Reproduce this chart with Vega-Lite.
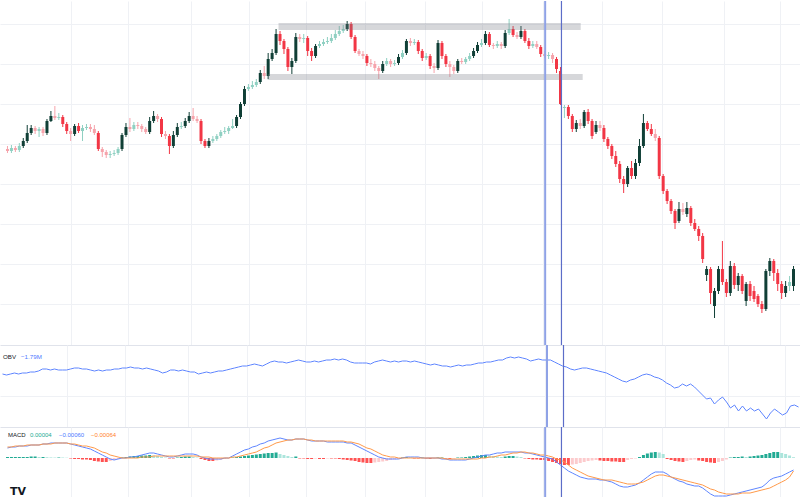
{
"$schema": "https://vega.github.io/schema/vega-lite/v6.json",
"padding": 0,
"spacing": 0,
"bounds": "flush",
"background": "#ffffff",
"config": {
  "view": {"stroke": null},
  "axis": {"labels": false, "ticks": false, "domain": false, "title": null, "grid": true, "gridColor": "#eff1f5", "gridWidth": 1, "minExtent": 0, "maxExtent": 0}
},
"data": {"values": [
{"t":0,"o":1.0755,"h":1.0758,"l":1.0751,"c":1.0753,"obv":-0.14,"macd":0.0005,"sig":0.00055,"hist":0.00005},
{"t":1,"o":1.0753,"h":1.0759,"l":1.0751,"c":1.0756,"obv":-0.19,"macd":0.00055,"sig":0.00055,"hist":0.00005},
{"t":2,"o":1.0756,"h":1.0758,"l":1.0752,"c":1.0754,"obv":-0.14,"macd":0.00055,"sig":0.0006,"hist":0.00005},
{"t":3,"o":1.0754,"h":1.0761,"l":1.0752,"c":1.0758,"obv":-0.09,"macd":0.0006,"sig":0.0006,"hist":0.00005},
{"t":4,"o":1.0758,"h":1.0766,"l":1.0756,"c":1.0763,"obv":-0.14,"macd":0.0006,"sig":0.0006,"hist":0.00005},
{"t":5,"o":1.0763,"h":1.0779,"l":1.0761,"c":1.0771,"obv":-0.09,"macd":0.0006,"sig":0.00065,"hist":0.00005},
{"t":6,"o":1.0771,"h":1.0779,"l":1.0769,"c":1.0776,"obv":-0.09,"macd":0.00065,"sig":0.00065,"hist":0.000075},
{"t":7,"o":1.0776,"h":1.0778,"l":1.077,"c":1.0773,"obv":-0.04,"macd":0.00065,"sig":0.00065,"hist":0.000075},
{"t":8,"o":1.0773,"h":1.0777,"l":1.0767,"c":1.0775,"obv":-0.04,"macd":0.00065,"sig":0.00065,"hist":0.00005},
{"t":9,"o":1.0775,"h":1.0777,"l":1.0768,"c":1.0771,"obv":0.01,"macd":0.0007,"sig":0.0007,"hist":0.00005},
{"t":10,"o":1.0771,"h":1.0785,"l":1.0769,"c":1.0783,"obv":0.11,"macd":0.0007,"sig":0.0007,"hist":0.00004},
{"t":11,"o":1.0783,"h":1.0793,"l":1.0782,"c":1.0788,"obv":0.11,"macd":0.00075,"sig":0.0007,"hist":0.00003},
{"t":12,"o":1.0788,"h":1.0798,"l":1.0784,"c":1.0786,"obv":0.06,"macd":0.00075,"sig":0.00075,"hist":0.000025},
{"t":13,"o":1.0786,"h":1.0791,"l":1.0784,"c":1.0787,"obv":0.11,"macd":0.00075,"sig":0.00075,"hist":0.000025},
{"t":14,"o":1.0787,"h":1.0789,"l":1.0777,"c":1.078,"obv":0.06,"macd":0.00075,"sig":0.00075,"hist":0.00002},
{"t":15,"o":1.078,"h":1.0782,"l":1.077,"c":1.0773,"obv":0.06,"macd":0.00075,"sig":0.00075,"hist":0.000015},
{"t":16,"o":1.0773,"h":1.0776,"l":1.0763,"c":1.077,"obv":0.06,"macd":0.0007,"sig":0.0007,"hist":-0.000025},
{"t":17,"o":1.077,"h":1.078,"l":1.0768,"c":1.0778,"obv":0.11,"macd":0.00065,"sig":0.0007,"hist":-0.00005},
{"t":18,"o":1.0778,"h":1.0781,"l":1.0771,"c":1.0773,"obv":0.16,"macd":0.0006,"sig":0.00065,"hist":-0.00005},
{"t":19,"o":1.0773,"h":1.0779,"l":1.0763,"c":1.0776,"obv":0.16,"macd":0.00055,"sig":0.0006,"hist":-0.000075},
{"t":20,"o":1.0776,"h":1.078,"l":1.0774,"c":1.0777,"obv":0.11,"macd":0.0005,"sig":0.0006,"hist":-0.000075},
{"t":21,"o":1.0777,"h":1.078,"l":1.0772,"c":1.0775,"obv":0.11,"macd":0.00045,"sig":0.00055,"hist":-0.0001},
{"t":22,"o":1.0775,"h":1.0779,"l":1.0769,"c":1.0771,"obv":0.06,"macd":0.00035,"sig":0.0005,"hist":-0.00015},
{"t":23,"o":1.0771,"h":1.0773,"l":1.0753,"c":1.0755,"obv":0.01,"macd":0.00025,"sig":0.0004,"hist":-0.000175},
{"t":24,"o":1.0755,"h":1.0757,"l":1.0747,"c":1.0752,"obv":0.06,"macd":0.00015,"sig":0.0003,"hist":-0.0002},
{"t":25,"o":1.0752,"h":1.0754,"l":1.0746,"c":1.0749,"obv":0.01,"macd":0.00005,"sig":0.00025,"hist":-0.0002},
{"t":26,"o":1.0749,"h":1.0753,"l":1.0746,"c":1.075,"obv":0.06,"macd":-0.00005,"sig":0.00015,"hist":-0.00015},
{"t":27,"o":1.075,"h":1.0754,"l":1.0748,"c":1.0751,"obv":0.06,"macd":-0.0001,"sig":0.0001,"hist":-0.0001},
{"t":28,"o":1.0751,"h":1.0757,"l":1.0749,"c":1.0755,"obv":0.11,"macd":-0.00005,"sig":0.00005,"hist":-0.00005},
{"t":29,"o":1.0755,"h":1.0771,"l":1.0753,"c":1.0769,"obv":0.11,"macd":0,"sig":0,"hist":0.000025},
{"t":30,"o":1.0769,"h":1.0781,"l":1.0767,"c":1.0777,"obv":0.16,"macd":0,"sig":0,"hist":0.00005},
{"t":31,"o":1.0777,"h":1.0786,"l":1.0772,"c":1.0775,"obv":0.16,"macd":0.00005,"sig":0,"hist":0.000075},
{"t":32,"o":1.0775,"h":1.0782,"l":1.0773,"c":1.0779,"obv":0.21,"macd":0.00005,"sig":0,"hist":0.0001},
{"t":33,"o":1.0779,"h":1.0782,"l":1.0775,"c":1.0778,"obv":0.16,"macd":0.0001,"sig":0,"hist":0.0001},
{"t":34,"o":1.0778,"h":1.078,"l":1.0772,"c":1.0775,"obv":0.16,"macd":0.00015,"sig":0.00005,"hist":0.000125},
{"t":35,"o":1.0775,"h":1.0777,"l":1.077,"c":1.0772,"obv":0.11,"macd":0.0002,"sig":0.00005,"hist":0.000125},
{"t":36,"o":1.0772,"h":1.0787,"l":1.077,"c":1.0783,"obv":0.16,"macd":0.00025,"sig":0.00005,"hist":0.00015},
{"t":37,"o":1.0783,"h":1.0793,"l":1.0781,"c":1.0788,"obv":0.11,"macd":0.00025,"sig":0.0001,"hist":0.000125},
{"t":38,"o":1.0788,"h":1.079,"l":1.0782,"c":1.0785,"obv":0.06,"macd":0.0002,"sig":0.0001,"hist":0.0001},
{"t":39,"o":1.0785,"h":1.0787,"l":1.0767,"c":1.077,"obv":0.01,"macd":0.00015,"sig":0.0001,"hist":0.00005},
{"t":40,"o":1.077,"h":1.0773,"l":1.0765,"c":1.0768,"obv":-0.09,"macd":0.0001,"sig":0.0001,"hist":0.000025},
{"t":41,"o":1.0768,"h":1.077,"l":1.075,"c":1.0758,"obv":-0.04,"macd":0.00005,"sig":0.0001,"hist":-0.000025},
{"t":42,"o":1.0758,"h":1.0773,"l":1.0756,"c":1.0769,"obv":0.06,"macd":0.00005,"sig":0.0001,"hist":-0.000025},
{"t":43,"o":1.0769,"h":1.0781,"l":1.0767,"c":1.0777,"obv":0.06,"macd":0.0001,"sig":0.0001,"hist":0.000025},
{"t":44,"o":1.0777,"h":1.0782,"l":1.0775,"c":1.0778,"obv":0.01,"macd":0.00015,"sig":0.0001,"hist":0.00005},
{"t":45,"o":1.0778,"h":1.0786,"l":1.0776,"c":1.0783,"obv":0.06,"macd":0.0002,"sig":0.0001,"hist":0.000075},
{"t":46,"o":1.0783,"h":1.0792,"l":1.0781,"c":1.0788,"obv":0.01,"macd":0.0002,"sig":0.0001,"hist":0.000075},
{"t":47,"o":1.0788,"h":1.0796,"l":1.0783,"c":1.0785,"obv":-0.04,"macd":0.0002,"sig":0.0001,"hist":0.00005},
{"t":48,"o":1.0785,"h":1.0788,"l":1.0781,"c":1.0783,"obv":-0.04,"macd":0.00015,"sig":0.0001,"hist":0.000025},
{"t":49,"o":1.0783,"h":1.0785,"l":1.076,"c":1.0763,"obv":-0.14,"macd":0.00005,"sig":0.00005,"hist":-0.00005},
{"t":50,"o":1.0763,"h":1.0765,"l":1.0756,"c":1.0758,"obv":-0.09,"macd":0,"sig":0.00005,"hist":-0.0001},
{"t":51,"o":1.0758,"h":1.0766,"l":1.0756,"c":1.0763,"obv":-0.04,"macd":-0.00005,"sig":0.00005,"hist":-0.00015},
{"t":52,"o":1.0763,"h":1.0768,"l":1.0761,"c":1.0765,"obv":-0.09,"macd":-0.00005,"sig":0,"hist":-0.00015},
{"t":53,"o":1.0765,"h":1.077,"l":1.0763,"c":1.0768,"obv":-0.04,"macd":-0.00005,"sig":0,"hist":-0.000125},
{"t":54,"o":1.0768,"h":1.0774,"l":1.0766,"c":1.0772,"obv":0.01,"macd":-0.00005,"sig":0,"hist":-0.0001},
{"t":55,"o":1.0772,"h":1.0777,"l":1.077,"c":1.0773,"obv":0.01,"macd":0,"sig":0,"hist":-0.00005},
{"t":56,"o":1.0773,"h":1.0778,"l":1.077,"c":1.0776,"obv":0.06,"macd":0,"sig":0,"hist":-0.000025},
{"t":57,"o":1.0776,"h":1.0785,"l":1.0775,"c":1.0778,"obv":0.11,"macd":0.0001,"sig":0.00005,"hist":0.000025},
{"t":58,"o":1.0778,"h":1.0789,"l":1.0776,"c":1.0787,"obv":0.16,"macd":0.0002,"sig":0.00005,"hist":0.00005},
{"t":59,"o":1.0787,"h":1.0802,"l":1.0785,"c":1.08,"obv":0.21,"macd":0.0003,"sig":0.0001,"hist":0.000075},
{"t":60,"o":1.08,"h":1.0818,"l":1.0798,"c":1.0815,"obv":0.26,"macd":0.0004,"sig":0.00015,"hist":0.0001},
{"t":61,"o":1.0815,"h":1.082,"l":1.0813,"c":1.0817,"obv":0.26,"macd":0.00045,"sig":0.0002,"hist":0.000125},
{"t":62,"o":1.0817,"h":1.0823,"l":1.0815,"c":1.0819,"obv":0.31,"macd":0.00055,"sig":0.00025,"hist":0.00015},
{"t":63,"o":1.0819,"h":1.0825,"l":1.0817,"c":1.0822,"obv":0.36,"macd":0.0006,"sig":0.0003,"hist":0.000175},
{"t":64,"o":1.0822,"h":1.0834,"l":1.082,"c":1.0831,"obv":0.31,"macd":0.0007,"sig":0.0004,"hist":0.0002},
{"t":65,"o":1.0831,"h":1.0838,"l":1.0825,"c":1.0828,"obv":0.26,"macd":0.00075,"sig":0.0005,"hist":0.000225},
{"t":66,"o":1.0828,"h":1.0851,"l":1.0825,"c":1.0845,"obv":0.36,"macd":0.00085,"sig":0.00055,"hist":0.00025},
{"t":67,"o":1.0845,"h":1.0855,"l":1.0843,"c":1.0851,"obv":0.46,"macd":0.0009,"sig":0.00065,"hist":0.00025},
{"t":68,"o":1.0851,"h":1.0875,"l":1.0849,"c":1.087,"obv":0.51,"macd":0.00095,"sig":0.00075,"hist":0.000275},
{"t":69,"o":1.087,"h":1.0873,"l":1.0859,"c":1.0863,"obv":0.46,"macd":0.001,"sig":0.0008,"hist":0.0002},
{"t":70,"o":1.0863,"h":1.0865,"l":1.085,"c":1.0855,"obv":0.46,"macd":0.00095,"sig":0.00085,"hist":0.00015},
{"t":71,"o":1.0855,"h":1.0857,"l":1.0833,"c":1.0837,"obv":0.41,"macd":0.0009,"sig":0.0009,"hist":0.0001},
{"t":72,"o":1.0837,"h":1.0846,"l":1.083,"c":1.0843,"obv":0.46,"macd":0.0009,"sig":0.0009,"hist":0.00005},
{"t":73,"o":1.0843,"h":1.0871,"l":1.0841,"c":1.0867,"obv":0.51,"macd":0.00095,"sig":0.00095,"hist":0.000075},
{"t":74,"o":1.0867,"h":1.087,"l":1.0862,"c":1.0865,"obv":0.56,"macd":0.00095,"sig":0.00095,"hist":-0.000025},
{"t":75,"o":1.0865,"h":1.087,"l":1.0861,"c":1.0866,"obv":0.51,"macd":0.00095,"sig":0.00095,"hist":-0.000025},
{"t":76,"o":1.0866,"h":1.0868,"l":1.0848,"c":1.0853,"obv":0.46,"macd":0.0009,"sig":0.0009,"hist":-0.00005},
{"t":77,"o":1.0853,"h":1.0856,"l":1.0843,"c":1.0848,"obv":0.46,"macd":0.00085,"sig":0.0009,"hist":-0.00005},
{"t":78,"o":1.0848,"h":1.086,"l":1.0846,"c":1.0858,"obv":0.51,"macd":0.00085,"sig":0.00085,"hist":-0.000025},
{"t":79,"o":1.0858,"h":1.0863,"l":1.0856,"c":1.086,"obv":0.46,"macd":0.00085,"sig":0.00085,"hist":-0.00005},
{"t":80,"o":1.086,"h":1.0865,"l":1.0858,"c":1.0862,"obv":0.51,"macd":0.00085,"sig":0.00085,"hist":-0.00005},
{"t":81,"o":1.0862,"h":1.0867,"l":1.086,"c":1.0863,"obv":0.56,"macd":0.0008,"sig":0.00085,"hist":-0.000025},
{"t":82,"o":1.0863,"h":1.087,"l":1.0861,"c":1.0866,"obv":0.56,"macd":0.0008,"sig":0.00085,"hist":-0.000025},
{"t":83,"o":1.0866,"h":1.0874,"l":1.0864,"c":1.087,"obv":0.61,"macd":0.0008,"sig":0.00085,"hist":-0.000025},
{"t":84,"o":1.087,"h":1.0878,"l":1.0868,"c":1.0873,"obv":0.56,"macd":0.0008,"sig":0.00085,"hist":-0.00005},
{"t":85,"o":1.0873,"h":1.0879,"l":1.0871,"c":1.0875,"obv":0.61,"macd":0.0008,"sig":0.00085,"hist":-0.000075},
{"t":86,"o":1.0875,"h":1.0883,"l":1.0873,"c":1.088,"obv":0.56,"macd":0.00075,"sig":0.0008,"hist":-0.0001},
{"t":87,"o":1.088,"h":1.0882,"l":1.0865,"c":1.0867,"obv":0.46,"macd":0.00075,"sig":0.0008,"hist":-0.000125},
{"t":88,"o":1.0867,"h":1.0869,"l":1.0851,"c":1.0853,"obv":0.41,"macd":0.00065,"sig":0.00075,"hist":-0.00015},
{"t":89,"o":1.0853,"h":1.0855,"l":1.0848,"c":1.085,"obv":0.41,"macd":0.00055,"sig":0.0007,"hist":-0.0002},
{"t":90,"o":1.085,"h":1.0853,"l":1.0845,"c":1.0848,"obv":0.41,"macd":0.00045,"sig":0.0006,"hist":-0.000225},
{"t":91,"o":1.0848,"h":1.085,"l":1.0838,"c":1.0841,"obv":0.41,"macd":0.00035,"sig":0.0005,"hist":-0.00025},
{"t":92,"o":1.0841,"h":1.0845,"l":1.0837,"c":1.084,"obv":0.36,"macd":0.00025,"sig":0.00045,"hist":-0.00025},
{"t":93,"o":1.084,"h":1.0843,"l":1.0833,"c":1.0836,"obv":0.46,"macd":0.00015,"sig":0.00035,"hist":-0.000225},
{"t":94,"o":1.0836,"h":1.0838,"l":1.0825,"c":1.0833,"obv":0.51,"macd":0.00005,"sig":0.00025,"hist":-0.0002},
{"t":95,"o":1.0833,"h":1.0843,"l":1.0831,"c":1.084,"obv":0.56,"macd":0,"sig":0.00015,"hist":-0.000175},
{"t":96,"o":1.084,"h":1.0846,"l":1.0838,"c":1.0843,"obv":0.51,"macd":-0.00005,"sig":0.0001,"hist":-0.00015},
{"t":97,"o":1.0843,"h":1.0845,"l":1.0837,"c":1.084,"obv":0.46,"macd":-0.00005,"sig":0.00005,"hist":-0.0001},
{"t":98,"o":1.084,"h":1.0844,"l":1.0838,"c":1.0841,"obv":0.51,"macd":-0.00005,"sig":0.00005,"hist":-0.000075},
{"t":99,"o":1.0841,"h":1.085,"l":1.0839,"c":1.0847,"obv":0.46,"macd":-0.00005,"sig":0,"hist":-0.00005},
{"t":100,"o":1.0847,"h":1.0854,"l":1.0845,"c":1.0851,"obv":0.51,"macd":0,"sig":0,"hist":0.000025},
{"t":101,"o":1.0851,"h":1.0865,"l":1.0849,"c":1.0863,"obv":0.51,"macd":0.00005,"sig":0,"hist":0.00005},
{"t":102,"o":1.0863,"h":1.0866,"l":1.0858,"c":1.0861,"obv":0.46,"macd":0.00005,"sig":0,"hist":0.000025},
{"t":103,"o":1.0861,"h":1.0865,"l":1.0859,"c":1.0862,"obv":0.51,"macd":0.00005,"sig":0,"hist":-0.000025},
{"t":104,"o":1.0862,"h":1.0864,"l":1.085,"c":1.0853,"obv":0.46,"macd":0.00005,"sig":0,"hist":-0.000025},
{"t":105,"o":1.0853,"h":1.0855,"l":1.0843,"c":1.0846,"obv":0.41,"macd":0,"sig":0,"hist":0.000025},
{"t":106,"o":1.0846,"h":1.0851,"l":1.0844,"c":1.0848,"obv":0.36,"macd":0,"sig":0,"hist":-0.000025},
{"t":107,"o":1.0848,"h":1.085,"l":1.0835,"c":1.0838,"obv":0.31,"macd":0,"sig":0,"hist":-0.00005},
{"t":108,"o":1.0838,"h":1.0841,"l":1.0831,"c":1.0836,"obv":0.36,"macd":0,"sig":0,"hist":-0.000025},
{"t":109,"o":1.0836,"h":1.0864,"l":1.0834,"c":1.0861,"obv":0.31,"macd":0,"sig":0,"hist":0.000025},
{"t":110,"o":1.0861,"h":1.0863,"l":1.0845,"c":1.0848,"obv":0.26,"macd":-0.00005,"sig":0,"hist":0.000025},
{"t":111,"o":1.0848,"h":1.085,"l":1.0837,"c":1.084,"obv":0.26,"macd":-0.00005,"sig":-0.00005,"hist":-0.000025},
{"t":112,"o":1.084,"h":1.0843,"l":1.0827,"c":1.0837,"obv":0.21,"macd":-0.0001,"sig":-0.00005,"hist":-0.00005},
{"t":113,"o":1.0837,"h":1.0839,"l":1.083,"c":1.0833,"obv":0.26,"macd":-0.0001,"sig":-0.00005,"hist":-0.000025},
{"t":114,"o":1.0833,"h":1.0845,"l":1.0831,"c":1.0843,"obv":0.31,"macd":-0.0001,"sig":-0.00005,"hist":0.000025},
{"t":115,"o":1.0843,"h":1.0846,"l":1.084,"c":1.0842,"obv":0.26,"macd":-0.0001,"sig":-0.00005,"hist":0.000025},
{"t":116,"o":1.0842,"h":1.0847,"l":1.084,"c":1.0845,"obv":0.31,"macd":-0.0001,"sig":-0.00005,"hist":0.00005},
{"t":117,"o":1.0845,"h":1.0851,"l":1.0843,"c":1.0848,"obv":0.31,"macd":-0.00005,"sig":-0.00005,"hist":0.000075},
{"t":118,"o":1.0848,"h":1.0856,"l":1.0846,"c":1.0853,"obv":0.36,"macd":0,"sig":-0.00005,"hist":0.0001},
{"t":119,"o":1.0853,"h":1.0862,"l":1.0851,"c":1.0859,"obv":0.41,"macd":0.00005,"sig":-0.00005,"hist":0.000125},
{"t":120,"o":1.0859,"h":1.0865,"l":1.0857,"c":1.0861,"obv":0.41,"macd":0.0001,"sig":0,"hist":0.00015},
{"t":121,"o":1.0861,"h":1.0873,"l":1.0859,"c":1.087,"obv":0.46,"macd":0.00015,"sig":0,"hist":0.00015},
{"t":122,"o":1.087,"h":1.0872,"l":1.0857,"c":1.0859,"obv":0.46,"macd":0.00015,"sig":0.00005,"hist":0.000125},
{"t":123,"o":1.0859,"h":1.0861,"l":1.0855,"c":1.0858,"obv":0.51,"macd":0.0002,"sig":0.00005,"hist":0.0001},
{"t":124,"o":1.0858,"h":1.0863,"l":1.0856,"c":1.086,"obv":0.56,"macd":0.00025,"sig":0.0001,"hist":0.000075},
{"t":125,"o":1.086,"h":1.0862,"l":1.0855,"c":1.0858,"obv":0.56,"macd":0.00025,"sig":0.00015,"hist":0.00005},
{"t":126,"o":1.0858,"h":1.0874,"l":1.0856,"c":1.0871,"obv":0.66,"macd":0.0003,"sig":0.00015,"hist":0.000075},
{"t":127,"o":1.0871,"h":1.0885,"l":1.0869,"c":1.0875,"obv":0.71,"macd":0.0003,"sig":0.0002,"hist":0.0001},
{"t":128,"o":1.0875,"h":1.0878,"l":1.0867,"c":1.0869,"obv":0.66,"macd":0.0003,"sig":0.00025,"hist":0.0001},
{"t":129,"o":1.0869,"h":1.0872,"l":1.0865,"c":1.0867,"obv":0.71,"macd":0.0003,"sig":0.00025,"hist":0.000075},
{"t":130,"o":1.0867,"h":1.0878,"l":1.0865,"c":1.0873,"obv":0.66,"macd":0.0003,"sig":0.0003,"hist":0.00005},
{"t":131,"o":1.0873,"h":1.0875,"l":1.0861,"c":1.0863,"obv":0.61,"macd":0.00025,"sig":0.0003,"hist":-0.000025},
{"t":132,"o":1.0863,"h":1.0866,"l":1.0855,"c":1.0858,"obv":0.51,"macd":0.00025,"sig":0.00025,"hist":-0.00005},
{"t":133,"o":1.0858,"h":1.0863,"l":1.0856,"c":1.086,"obv":0.56,"macd":0.0002,"sig":0.00025,"hist":-0.000075},
{"t":134,"o":1.086,"h":1.0863,"l":1.0855,"c":1.0857,"obv":0.61,"macd":0.00015,"sig":0.0002,"hist":-0.000075},
{"t":135,"o":1.0857,"h":1.0859,"l":1.0847,"c":1.085,"obv":0.56,"macd":0.0001,"sig":0.00015,"hist":-0.0001},
{"t":136,"o":1.085,"h":1.0853,"l":1.0846,"c":1.0848,"obv":0.56,"macd":0.00005,"sig":0.00015,"hist":-0.0001},
{"t":137,"o":1.0848,"h":1.0852,"l":1.0845,"c":1.0849,"obv":0.56,"macd":0,"sig":0.0001,"hist":-0.00015},
{"t":138,"o":1.0849,"h":1.0851,"l":1.0841,"c":1.0845,"obv":0.46,"macd":-0.00005,"sig":0.00005,"hist":-0.0002},
{"t":139,"o":1.0845,"h":1.0847,"l":1.0831,"c":1.0835,"obv":0.36,"macd":-0.0002,"sig":-0.00005,"hist":-0.00025},
{"t":140,"o":1.0833,"h":1.0837,"l":1.0799,"c":1.08,"obv":0.26,"macd":-0.00035,"sig":-0.0001,"hist":-0.0003},
{"t":141,"o":1.0796,"h":1.0799,"l":1.0786,"c":1.0797,"obv":0.21,"macd":-0.0005,"sig":-0.0002,"hist":-0.00035},
{"t":142,"o":1.0797,"h":1.0799,"l":1.0785,"c":1.0788,"obv":0.11,"macd":-0.00065,"sig":-0.00035,"hist":-0.00035},
{"t":143,"o":1.0788,"h":1.079,"l":1.0772,"c":1.0775,"obv":0.06,"macd":-0.00075,"sig":-0.0005,"hist":-0.000325},
{"t":144,"o":1.0775,"h":1.0784,"l":1.0772,"c":1.0781,"obv":0.11,"macd":-0.00085,"sig":-0.0006,"hist":-0.0003},
{"t":145,"o":1.0781,"h":1.0785,"l":1.0775,"c":1.0778,"obv":0.16,"macd":-0.00095,"sig":-0.0007,"hist":-0.00025},
{"t":146,"o":1.0778,"h":1.0794,"l":1.0776,"c":1.0792,"obv":0.16,"macd":-0.001,"sig":-0.0008,"hist":-0.0002},
{"t":147,"o":1.0792,"h":1.0795,"l":1.078,"c":1.0783,"obv":0.11,"macd":-0.00105,"sig":-0.0009,"hist":-0.00015},
{"t":148,"o":1.0783,"h":1.0785,"l":1.0765,"c":1.0768,"obv":0.06,"macd":-0.00105,"sig":-0.00095,"hist":-0.000125},
{"t":149,"o":1.0772,"h":1.0783,"l":1.077,"c":1.0779,"obv":0.01,"macd":-0.00105,"sig":-0.001,"hist":-0.0001},
{"t":150,"o":1.0779,"h":1.0783,"l":1.0773,"c":1.0776,"obv":-0.04,"macd":-0.0011,"sig":-0.00105,"hist":-0.000125},
{"t":151,"o":1.0776,"h":1.0779,"l":1.0762,"c":1.0765,"obv":-0.09,"macd":-0.0011,"sig":-0.0011,"hist":-0.00015},
{"t":152,"o":1.0765,"h":1.0767,"l":1.0755,"c":1.0758,"obv":-0.19,"macd":-0.00115,"sig":-0.0011,"hist":-0.00015},
{"t":153,"o":1.0758,"h":1.076,"l":1.0745,"c":1.0748,"obv":-0.29,"macd":-0.0012,"sig":-0.0011,"hist":-0.000175},
{"t":154,"o":1.0748,"h":1.0753,"l":1.0737,"c":1.074,"obv":-0.39,"macd":-0.0013,"sig":-0.00115,"hist":-0.000175},
{"t":155,"o":1.074,"h":1.0743,"l":1.0721,"c":1.0725,"obv":-0.49,"macd":-0.0014,"sig":-0.0012,"hist":-0.0002},
{"t":156,"o":1.0725,"h":1.0728,"l":1.0711,"c":1.072,"obv":-0.54,"macd":-0.00145,"sig":-0.00125,"hist":-0.0002},
{"t":157,"o":1.072,"h":1.0738,"l":1.0717,"c":1.0736,"obv":-0.44,"macd":-0.00145,"sig":-0.0013,"hist":-0.0001},
{"t":158,"o":1.0736,"h":1.0743,"l":1.0725,"c":1.0728,"obv":-0.39,"macd":-0.0014,"sig":-0.0013,"hist":-0.00005},
{"t":159,"o":1.0728,"h":1.0745,"l":1.0725,"c":1.0741,"obv":-0.29,"macd":-0.00135,"sig":-0.0013,"hist":-0.000025},
{"t":160,"o":1.0741,"h":1.0765,"l":1.0738,"c":1.0758,"obv":-0.19,"macd":-0.00125,"sig":-0.00125,"hist":0.00005},
{"t":161,"o":1.0758,"h":1.079,"l":1.0756,"c":1.0781,"obv":-0.14,"macd":-0.0011,"sig":-0.0012,"hist":0.00015},
{"t":162,"o":1.0781,"h":1.0783,"l":1.0773,"c":1.0775,"obv":-0.19,"macd":-0.00095,"sig":-0.0011,"hist":0.000225},
{"t":163,"o":1.0775,"h":1.078,"l":1.0768,"c":1.077,"obv":-0.29,"macd":-0.0008,"sig":-0.001,"hist":0.000275},
{"t":164,"o":1.077,"h":1.0775,"l":1.0763,"c":1.0766,"obv":-0.34,"macd":-0.0007,"sig":-0.0009,"hist":0.0003},
{"t":165,"o":1.0766,"h":1.0768,"l":1.0725,"c":1.0728,"obv":-0.44,"macd":-0.0007,"sig":-0.00085,"hist":0.000275},
{"t":166,"o":1.0728,"h":1.073,"l":1.071,"c":1.0713,"obv":-0.59,"macd":-0.0007,"sig":-0.00085,"hist":0.0002},
{"t":167,"o":1.0713,"h":1.0715,"l":1.07,"c":1.0703,"obv":-0.69,"macd":-0.0008,"sig":-0.0009,"hist":-0.00005},
{"t":168,"o":1.0703,"h":1.0705,"l":1.069,"c":1.0693,"obv":-0.84,"macd":-0.00095,"sig":-0.00095,"hist":-0.0001},
{"t":169,"o":1.0693,"h":1.0695,"l":1.0675,"c":1.0681,"obv":-0.79,"macd":-0.00105,"sig":-0.001,"hist":-0.00015},
{"t":170,"o":1.0683,"h":1.0702,"l":1.0681,"c":1.0695,"obv":-0.64,"macd":-0.00115,"sig":-0.00105,"hist":-0.000175},
{"t":171,"o":1.0695,"h":1.0701,"l":1.0689,"c":1.0692,"obv":-0.74,"macd":-0.0012,"sig":-0.0011,"hist":-0.0002},
{"t":172,"o":1.069,"h":1.0702,"l":1.0687,"c":1.0696,"obv":-0.64,"macd":-0.0013,"sig":-0.00115,"hist":-0.00015},
{"t":173,"o":1.0696,"h":1.0698,"l":1.0678,"c":1.0681,"obv":-0.79,"macd":-0.00135,"sig":-0.0012,"hist":-0.0001},
{"t":174,"o":1.0681,"h":1.0685,"l":1.0673,"c":1.0675,"obv":-0.99,"macd":-0.0014,"sig":-0.00125,"hist":-0.000075},
{"t":175,"o":1.0675,"h":1.0678,"l":1.0663,"c":1.0668,"obv":-1.19,"macd":-0.0014,"sig":-0.0013,"hist":-0.000125},
{"t":176,"o":1.0668,"h":1.0671,"l":1.0641,"c":1.0645,"obv":-1.39,"macd":-0.0015,"sig":-0.00135,"hist":-0.00015},
{"t":177,"o":1.0629,"h":1.0638,"l":1.0623,"c":1.0635,"obv":-1.34,"macd":-0.00165,"sig":-0.00145,"hist":-0.0002},
{"t":178,"o":1.0635,"h":1.0637,"l":1.06,"c":1.0611,"obv":-1.64,"macd":-0.0018,"sig":-0.00155,"hist":-0.000225},
{"t":179,"o":1.0598,"h":1.0616,"l":1.0586,"c":1.0613,"obv":-1.44,"macd":-0.0019,"sig":-0.0016,"hist":-0.00025},
{"t":180,"o":1.0613,"h":1.0638,"l":1.061,"c":1.0635,"obv":-1.29,"macd":-0.0019,"sig":-0.0017,"hist":-0.0002},
{"t":181,"o":1.0635,"h":1.0663,"l":1.0619,"c":1.0622,"obv":-1.54,"macd":-0.0019,"sig":-0.00175,"hist":-0.00015},
{"t":182,"o":1.0622,"h":1.0625,"l":1.0607,"c":1.0611,"obv":-1.84,"macd":-0.0019,"sig":-0.0018,"hist":-0.000075},
{"t":183,"o":1.0611,"h":1.0643,"l":1.0608,"c":1.0638,"obv":-1.69,"macd":-0.00185,"sig":-0.0018,"hist":0.000025},
{"t":184,"o":1.0638,"h":1.0641,"l":1.0615,"c":1.0619,"obv":-1.99,"macd":-0.0018,"sig":-0.0018,"hist":0.00005},
{"t":185,"o":1.0619,"h":1.0631,"l":1.0613,"c":1.0628,"obv":-1.74,"macd":-0.00175,"sig":-0.0018,"hist":0.00005},
{"t":186,"o":1.0628,"h":1.063,"l":1.061,"c":1.0613,"obv":-1.99,"macd":-0.0017,"sig":-0.00175,"hist":0.000075},
{"t":187,"o":1.0603,"h":1.0622,"l":1.0598,"c":1.062,"obv":-1.84,"macd":-0.00165,"sig":-0.00175,"hist":0.00005},
{"t":188,"o":1.062,"h":1.0623,"l":1.0603,"c":1.0608,"obv":-1.99,"macd":-0.0016,"sig":-0.00175,"hist":0.000075},
{"t":189,"o":1.0613,"h":1.0618,"l":1.0602,"c":1.0605,"obv":-1.89,"macd":-0.00155,"sig":-0.0017,"hist":0.0001},
{"t":190,"o":1.0608,"h":1.061,"l":1.0597,"c":1.06,"obv":-2.14,"macd":-0.0015,"sig":-0.00165,"hist":0.000125},
{"t":191,"o":1.06,"h":1.0603,"l":1.0591,"c":1.0595,"obv":-2.39,"macd":-0.00145,"sig":-0.0016,"hist":0.00015},
{"t":192,"o":1.0595,"h":1.0635,"l":1.0593,"c":1.0633,"obv":-2.09,"macd":-0.0013,"sig":-0.00155,"hist":0.0002},
{"t":193,"o":1.0633,"h":1.0646,"l":1.0628,"c":1.0643,"obv":-1.89,"macd":-0.0011,"sig":-0.0015,"hist":0.00025},
{"t":194,"o":1.0643,"h":1.0645,"l":1.0623,"c":1.0631,"obv":-2.04,"macd":-0.001,"sig":-0.0014,"hist":0.0003},
{"t":195,"o":1.0631,"h":1.0635,"l":1.0613,"c":1.062,"obv":-2.19,"macd":-0.00095,"sig":-0.0013,"hist":0.0003},
{"t":196,"o":1.062,"h":1.0623,"l":1.0605,"c":1.0611,"obv":-2.09,"macd":-0.0009,"sig":-0.0012,"hist":0.00025},
{"t":197,"o":1.0611,"h":1.0623,"l":1.0607,"c":1.0618,"obv":-1.74,"macd":-0.0008,"sig":-0.0011,"hist":0.0002},
{"t":198,"o":1.0618,"h":1.0628,"l":1.0613,"c":1.0622,"obv":-1.69,"macd":-0.0007,"sig":-0.00095,"hist":0.000125},
{"t":199,"o":1.0618,"h":1.0638,"l":1.0613,"c":1.0635,"obv":-1.79,"macd":-0.0006,"sig":-0.00065,"hist":0.00004}
]},
"vconcat": [
{
  "width": 800, "height": 344,
  "layer": [
    {"mark": {"type": "rule", "strokeWidth": 1},
     "encoding": {
       "x": {"field": "t", "type": "quantitative", "scale": {"domain": [-0.625, 199.375], "nice": false, "zero": false},
             "axis": {"values": [16.125, 30.625, 46.375, 61.125, 75.625, 90.625, 105.625, 120.125, 135.625, 150.625, 165.625, 181.375, 195.625], "domain": true, "domainColor": "#e0e3eb"}},
       "y": {"field": "h", "type": "quantitative", "scale": {"domain": [1.0559, 1.0903], "nice": false, "zero": false},
             "axis": {"values": [1.06, 1.064, 1.068, 1.072, 1.076, 1.08, 1.084, 1.088]}},
       "y2": {"field": "l"},
       "color": {"condition": [
         {"test": "datum.c >= datum.o && datum.c - datum.o >= 0.00045", "value": "#103f36"},
         {"test": "datum.c >= datum.o", "value": "#8fd0c2"},
         {"test": "datum.o - datum.c >= 0.00045", "value": "#f23645"}], "value": "#f6a3ab"}
     }},
    {"mark": {"type": "bar", "size": 3},
     "encoding": {
       "x": {"field": "t", "type": "quantitative"},
       "y": {"field": "o", "type": "quantitative"},
       "y2": {"field": "c"},
       "color": {"condition": [
         {"test": "datum.c >= datum.o && datum.c - datum.o >= 0.00045", "value": "#103f36"},
         {"test": "datum.c >= datum.o", "value": "#8fd0c2"},
         {"test": "datum.o - datum.c >= 0.00045", "value": "#f23645"}], "value": "#f6a3ab"}
     }},
    {"data": {"values": [{"t1": 68.625, "t2": 145.125, "p1": 1.0881, "p2": 1.0874}, {"t1": 65.875, "t2": 145.625, "p1": 1.083, "p2": 1.0824}]},
     "mark": {"type": "rect", "color": "#787b86", "opacity": 0.3},
     "encoding": {
       "x": {"field": "t1", "type": "quantitative"}, "x2": {"field": "t2"},
       "y": {"field": "p1", "type": "quantitative"}, "y2": {"field": "p2"}
     }},
    {"data": {"values": [{"t": 136.125}]}, "mark": {"type": "rule", "color": "#8fa2e6", "strokeWidth": 2},
     "encoding": {"x": {"field": "t", "type": "quantitative"}}},
    {"data": {"values": [{"t": 140.25}]}, "mark": {"type": "rule", "color": "#5c6dc8", "strokeWidth": 1.2},
     "encoding": {"x": {"field": "t", "type": "quantitative"}}}
  ]
},
{
  "width": 800, "height": 82,
  "layer": [
    {"mark": {"type": "line", "color": "#5f86ff", "strokeWidth": 1},
     "encoding": {
       "x": {"field": "t", "type": "quantitative", "scale": {"domain": [-0.625, 199.375], "nice": false, "zero": false},
             "axis": {"values": [16.125, 30.625, 46.375, 61.125, 75.625, 90.625, 105.625, 120.125, 135.625, 150.625, 165.625, 181.375, 195.625], "domain": true, "domainColor": "#e0e3eb"}},
       "y": {"field": "obv", "type": "quantitative", "scale": {"domain": [-2.79, 1.31], "nice": false, "zero": false},
             "axis": {"values": [-1.24]}}
     }},
    {"data": {"values": [{"t": 136.125}]}, "mark": {"type": "rule", "color": "#8fa2e6", "strokeWidth": 2},
     "encoding": {"x": {"field": "t", "type": "quantitative"}}},
    {"data": {"values": [{"t": 140.25}]}, "mark": {"type": "rule", "color": "#5c6dc8", "strokeWidth": 1.2},
     "encoding": {"x": {"field": "t", "type": "quantitative"}}},
    {"data": {"values": [{"k": 0}]},
     "mark": {"type": "text", "text": "OBV", "align": "left", "baseline": "middle", "dx": 0.5, "font": "Liberation Sans", "fontSize": 6.2, "color": "#131722"},
     "encoding": {"x": {"datum": 0}, "y": {"datum": 0.71}}},
    {"data": {"values": [{"k": 0}]},
     "mark": {"type": "text", "text": "−1.79M", "align": "left", "baseline": "middle", "dx": 18.5, "font": "Liberation Sans", "fontSize": 6.2, "color": "#4d78ff"},
     "encoding": {"x": {"datum": 0}, "y": {"datum": 0.71}}}
  ]
},
{
  "width": 800, "height": 70,
  "layer": [
    {"transform": [{"window": [{"op": "lag", "field": "hist", "as": "hp"}], "sort": [{"field": "t", "order": "ascending"}]}],
     "mark": {"type": "bar", "size": 3},
     "encoding": {
       "x": {"field": "t", "type": "quantitative", "scale": {"domain": [-0.625, 199.375], "nice": false, "zero": false},
             "axis": {"values": [16.125, 30.625, 46.375, 61.125, 75.625, 90.625, 105.625, 120.125, 135.625, 150.625, 165.625, 181.375, 195.625]}},
       "y": {"field": "hist", "type": "quantitative", "scale": {"domain": [-0.00195, 0.00155], "nice": false, "zero": false}, "axis": null},
       "y2": {"datum": 0},
       "color": {"condition": [
         {"test": "datum.hist >= 0 && (datum.hp == null || datum.hist >= datum.hp)", "value": "#22ab94"},
         {"test": "datum.hist >= 0", "value": "#ace5dc"},
         {"test": "datum.hp == null || datum.hist <= datum.hp", "value": "#ff5252"}], "value": "#fccbcd"}
     }},
    {"mark": {"type": "line", "color": "#5f86ff", "strokeWidth": 1},
     "encoding": {"x": {"field": "t", "type": "quantitative"}, "y": {"field": "macd", "type": "quantitative"}}},
    {"mark": {"type": "line", "color": "#ff9a4a", "strokeWidth": 1},
     "encoding": {"x": {"field": "t", "type": "quantitative"}, "y": {"field": "sig", "type": "quantitative"}}},
    {"data": {"values": [{"t": 136.125}]}, "mark": {"type": "rule", "color": "#8fa2e6", "strokeWidth": 2},
     "encoding": {"x": {"field": "t", "type": "quantitative"}}},
    {"data": {"values": [{"t": 140.25}]}, "mark": {"type": "rule", "color": "#5c6dc8", "strokeWidth": 1.2},
     "encoding": {"x": {"field": "t", "type": "quantitative"}}},
    {"data": {"values": [{"k": 0}]},
     "mark": {"type": "text", "text": "MACD", "align": "left", "baseline": "middle", "dx": 0.5, "font": "Liberation Sans", "fontSize": 6, "color": "#131722"},
     "encoding": {"x": {"datum": 0}, "y": {"datum": 0.00115}}},
    {"data": {"values": [{"k": 0}]},
     "mark": {"type": "text", "text": "0.00004", "align": "left", "baseline": "middle", "dx": 22.5, "font": "Liberation Sans", "fontSize": 6, "color": "#22ab94"},
     "encoding": {"x": {"datum": 0}, "y": {"datum": 0.00115}}},
    {"data": {"values": [{"k": 0}]},
     "mark": {"type": "text", "text": "−0.00060", "align": "left", "baseline": "middle", "dx": 51.5, "font": "Liberation Sans", "fontSize": 6, "color": "#4d78ff"},
     "encoding": {"x": {"datum": 0}, "y": {"datum": 0.00115}}},
    {"data": {"values": [{"k": 0}]},
     "mark": {"type": "text", "text": "−0.00064", "align": "left", "baseline": "middle", "dx": 83.5, "font": "Liberation Sans", "fontSize": 6, "color": "#ff7f2a"},
     "encoding": {"x": {"datum": 0}, "y": {"datum": 0.00115}}},
    {"data": {"values": [{"k": 0}]},
     "mark": {"type": "text", "text": "TV", "align": "left", "baseline": "middle", "dx": 2.5, "font": "DejaVu Sans", "fontWeight": "bold", "fontSize": 11, "color": "#131722"},
     "encoding": {"x": {"datum": 0}, "y": {"datum": -0.0017}}}
  ]
}
]
}
